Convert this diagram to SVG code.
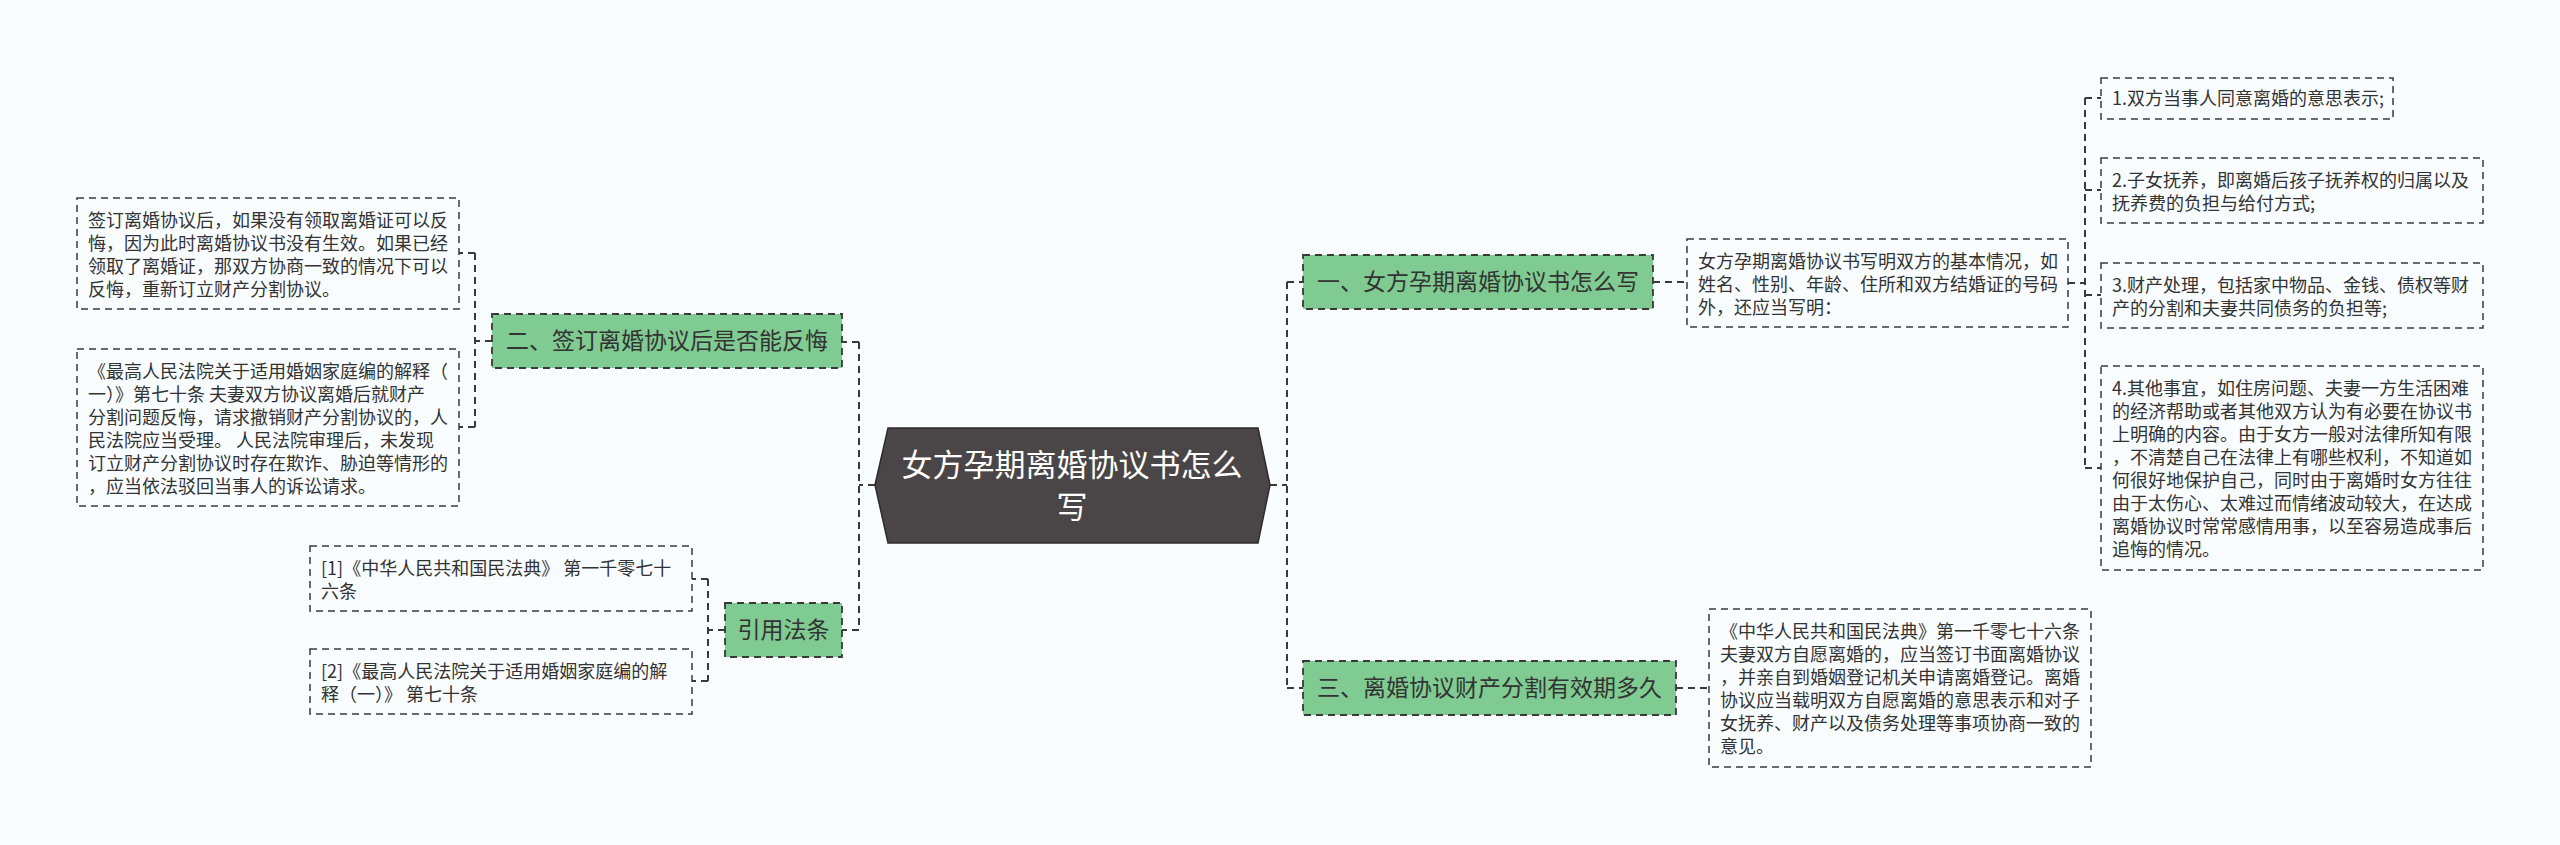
<svg xmlns="http://www.w3.org/2000/svg" width="2560" height="845" viewBox="0 0 2560 845">
<style>
.bg{fill:#f9fdff}
.conn{fill:none;stroke:#3a3a3a;stroke-width:2;stroke-dasharray:7 5}
.box{fill:#f9fdff;stroke:#3a3a3a;stroke-width:1.5;stroke-dasharray:7 5}
.green{fill:#7fcb91;stroke:#3a3a3a;stroke-width:1.8;stroke-dasharray:7 5}
.hex{fill:#4a4546;stroke:#2e2b2b;stroke-width:1.5}
.t{font-family:"Noto Sans CJK SC","Noto Sans",sans-serif;font-size:18px;fill:#333333}
.g{font-family:"Noto Sans CJK SC","Noto Sans",sans-serif;font-size:23px;fill:#333333;text-anchor:middle}
.h{font-family:"Noto Sans CJK SC","Noto Sans",sans-serif;font-size:31px;fill:#ffffff;text-anchor:middle}
</style>
<rect class="bg" x="0" y="0" width="2560" height="845"/>
<g id="connectors">
<path class="conn" d="M875,485 H859 M859,342 V630 M859,342 H842 M859,630 H842"/>
<path class="conn" d="M492,341 H475 M475,253 V427 M475,253 H459 M475,427 H459"/>
<path class="conn" d="M725,630 H708 M708,579 V681 M708,579 H692 M708,681 H692"/>
<path class="conn" d="M1270,485 H1287 M1287,282 V688 M1287,282 H1303 M1287,688 H1303"/>
<path class="conn" d="M1653,282 H1687"/>
<path class="conn" d="M2068,283 H2085 M2085,98 V468 M2085,98 H2101 M2085,190 H2101 M2085,295 H2101 M2085,468 H2101"/>
<path class="conn" d="M1676,688 H1709"/>
</g>
<g id="root">
<polygon class="hex" points="875,485 888,428 1258,428 1270,485 1258,543 888,543"/>
<text class="h" x="1072" y="476">女方孕期离婚协议书怎么</text>
<text class="h" x="1072" y="518">写</text>
</g>
<g id="n2">
<rect class="green" x="492" y="314" width="350" height="54"/>
<text class="g" x="667" y="349">二、签订离婚协议后是否能反悔</text>
</g>
<g id="n2a">
<rect class="box" x="77" y="198" width="382" height="111"/>
<text class="t" x="88" y="227">签订离婚协议后，如果没有领取离婚证可以反</text>
<text class="t" x="88" y="250">悔，因为此时离婚协议书没有生效。如果已经</text>
<text class="t" x="88" y="273">领取了离婚证，那双方协商一致的情况下可以</text>
<text class="t" x="88" y="296">反悔，重新订立财产分割协议。</text>
</g>
<g id="n2b">
<rect class="box" x="77" y="349" width="382" height="157"/>
<text class="t" x="88" y="378">《最高人民法院关于适用婚姻家庭编的解释（</text>
<text class="t" x="88" y="401">一）》第七十条 夫妻双方协议离婚后就财产</text>
<text class="t" x="88" y="424">分割问题反悔，请求撤销财产分割协议的，人</text>
<text class="t" x="88" y="447">民法院应当受理。 人民法院审理后，未发现</text>
<text class="t" x="88" y="470">订立财产分割协议时存在欺诈、胁迫等情形的</text>
<text class="t" x="88" y="493">，应当依法驳回当事人的诉讼请求。</text>
</g>
<g id="cite">
<rect class="green" x="725" y="603" width="117" height="54"/>
<text class="g" x="783.5" y="638">引用法条</text>
</g>
<g id="cite1">
<rect class="box" x="310" y="546" width="382" height="65"/>
<text class="t" x="321" y="575">[1]《中华人民共和国民法典》 第一千零七十</text>
<text class="t" x="321" y="598">六条</text>
</g>
<g id="cite2">
<rect class="box" x="310" y="649" width="382" height="65"/>
<text class="t" x="321" y="678">[2]《最高人民法院关于适用婚姻家庭编的解</text>
<text class="t" x="321" y="701">释（一）》 第七十条</text>
</g>
<g id="n1">
<rect class="green" x="1303" y="255" width="350" height="54"/>
<text class="g" x="1478" y="290">一、女方孕期离婚协议书怎么写</text>
</g>
<g id="n1a">
<rect class="box" x="1687" y="239" width="381" height="88"/>
<text class="t" x="1698" y="268">女方孕期离婚协议书写明双方的基本情况，如</text>
<text class="t" x="1698" y="291">姓名、性别、年龄、住所和双方结婚证的号码</text>
<text class="t" x="1698" y="314">外，还应当写明：</text>
</g>
<g id="r1">
<rect class="box" x="2101" y="78" width="292" height="41"/>
<text class="t" x="2112" y="105">1.双方当事人同意离婚的意思表示;</text>
</g>
<g id="r2">
<rect class="box" x="2101" y="158" width="382" height="65"/>
<text class="t" x="2112" y="187">2.子女抚养，即离婚后孩子抚养权的归属以及</text>
<text class="t" x="2112" y="210">抚养费的负担与给付方式;</text>
</g>
<g id="r3">
<rect class="box" x="2101" y="263" width="382" height="65"/>
<text class="t" x="2112" y="292">3.财产处理，包括家中物品、金钱、债权等财</text>
<text class="t" x="2112" y="315">产的分割和夫妻共同债务的负担等;</text>
</g>
<g id="r4">
<rect class="box" x="2101" y="366" width="382" height="204"/>
<text class="t" x="2112" y="395">4.其他事宜，如住房问题、夫妻一方生活困难</text>
<text class="t" x="2112" y="418">的经济帮助或者其他双方认为有必要在协议书</text>
<text class="t" x="2112" y="441">上明确的内容。由于女方一般对法律所知有限</text>
<text class="t" x="2112" y="464">，不清楚自己在法律上有哪些权利，不知道如</text>
<text class="t" x="2112" y="487">何很好地保护自己，同时由于离婚时女方往往</text>
<text class="t" x="2112" y="510">由于太伤心、太难过而情绪波动较大，在达成</text>
<text class="t" x="2112" y="533">离婚协议时常常感情用事，以至容易造成事后</text>
<text class="t" x="2112" y="556">追悔的情况。</text>
</g>
<g id="n3">
<rect class="green" x="1303" y="661" width="373" height="54"/>
<text class="g" x="1489.5" y="696">三、离婚协议财产分割有效期多久</text>
</g>
<g id="n3a">
<rect class="box" x="1709" y="609" width="382" height="158"/>
<text class="t" x="1720" y="638">《中华人民共和国民法典》第一千零七十六条</text>
<text class="t" x="1720" y="661">夫妻双方自愿离婚的，应当签订书面离婚协议</text>
<text class="t" x="1720" y="684">，并亲自到婚姻登记机关申请离婚登记。离婚</text>
<text class="t" x="1720" y="707">协议应当载明双方自愿离婚的意思表示和对子</text>
<text class="t" x="1720" y="730">女抚养、财产以及债务处理等事项协商一致的</text>
<text class="t" x="1720" y="753">意见。</text>
</g>
</svg>
